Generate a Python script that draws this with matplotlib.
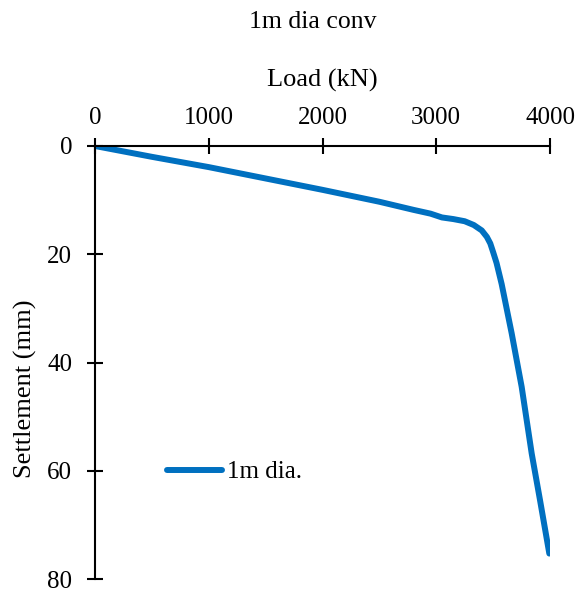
import numpy as np
import matplotlib
matplotlib.use('Agg')
import matplotlib.pyplot as plt

plt.rcParams['font.family'] = ['Liberation Serif', 'DejaVu Serif']

# --- データ（荷重-沈下曲線） ---
load = [0, 500, 1000, 1500, 2000, 2500, 2800, 2950, 3050, 3150, 3250,
        3330, 3400, 3445, 3475, 3500, 3530, 3575, 3663, 3751, 3839, 3912, 3994]
settlement = [0, 2.0, 3.9, 6.0, 8.1, 10.3, 11.8, 12.5, 13.2, 13.5, 13.9,
              14.6, 15.6, 16.8, 18.0, 19.6, 21.6, 25.5, 34.6, 44.5, 56.8, 65.4, 75.3]
series_name = "1m dia."
x_ticks = [0, 1000, 2000, 3000, 4000]
y_ticks = [0, 20, 40, 60, 80]

W, H = 577, 590
fig = plt.figure(figsize=(W / 100, H / 100), dpi=100)
ax = fig.add_axes([95 / W, 1 - 579 / H, 455 / W, 433 / H])

ax.plot(load, settlement, color='#0070C0', lw=4.3,
        solid_capstyle='round', solid_joinstyle='round', label=series_name)

ax.set_xlim(0, 4000)
ax.set_ylim(80, 0)
ax.set_xticks(x_ticks)
ax.set_yticks(y_ticks)

ax.xaxis.tick_top()
for s in ['right', 'bottom']:
    ax.spines[s].set_visible(False)
for s in ['left', 'top']:
    ax.spines[s].set_linewidth(1.5)

ax.tick_params(axis='both', direction='inout', length=11, width=1.5,
               labelsize=18)
ax.tick_params(axis='x', pad=7)
ax.tick_params(axis='y', pad=11)

fig.text(313 / W, 1 - 22 / H, "1m dia conv", ha='center', va='center', fontsize=18.5)
fig.text(322 / W, 1 - 80 / H, "Load (kN)", ha='center', va='center', fontsize=19)
fig.text(25 / W, 1 - 389 / H, "Settlement (mm)", ha='center', va='center',
         rotation=90, fontsize=19)

ax.legend(loc='center left', bbox_to_anchor=((167 - 95) / 455, 1 - (472 - 146) / 433),
          frameon=False, fontsize=18, handlelength=2.2, handletextpad=0.2,
          borderpad=0, borderaxespad=0)

fig.savefig("out.png", dpi=100)
plt.close(fig)
